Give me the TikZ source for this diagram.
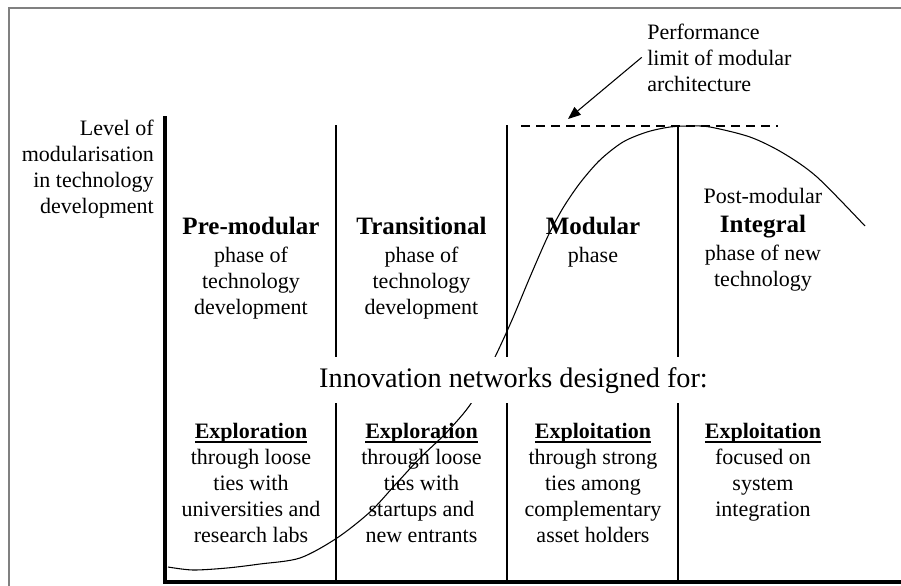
\documentclass[tikz,border=0pt]{standalone}
\usepackage{fontspec}
\setmainfont{Liberation Serif}
\usetikzlibrary{arrows.meta}
\newsavebox\ulbox
\newcommand\ulword[1]{\sbox\ulbox{#1}\rlap{\rule[-3.4pt]{\wd\ulbox}{1.2pt}}\usebox\ulbox}
\begin{document}
\begin{tikzpicture}[x=0.75pt,y=-0.75pt,
    axis/.style={line width=2.6pt},
    divider/.style={line width=0.8pt},
    head/.style={font=\fontsize{18.75}{21}\selectfont\bfseries,anchor=base,inner sep=0pt},
    body/.style={font=\fontsize{16.5}{19.5}\selectfont,align=center,anchor=base,inner sep=0pt}]
    \useasboundingbox (0,0) rectangle (901,586);
    \draw[gray,line width=1.1pt] (9,586)--(9,8)--(901,8);
    % phase dividers
    \foreach \x in {336,507,678}
        \draw[divider] (\x,125)--(\x,582);
    % curve of modularisation
    \draw[line width=0.8pt] plot[smooth,tension=0.5] coordinates {(168,567) (193,570) (227,568) (260,564) (300,558) (337,538) (370,512) (395,485) (420,458) (447,432) (472,402) (495,357) (512,320) (530,277) (548,236) (563,208) (580,183) (600,160) (623,142) (647,132) (670,127) (690,126) (710,127) (750,137) (783,153) (817,177) (865,226)};
    \draw[axis] (165,116)--(165,582)--(901,582);
    \draw[line width=1.8pt,dash pattern=on 6.75pt off 4.5pt] (521,126)--(778,126);
    \coordinate (limit) at (568,119);
    % base anchor of a multi-line node = last line
    \node[body,align=left,anchor=base west,inner sep=4pt] (perf) at (641.7,91) {Performance\\limit of modular\\architecture};
    \draw[line width=0.8pt,-{Triangle[length=9.5pt,width=7.5pt]}] (perf.west)--(limit);
    \node[body,align=right,anchor=base east] (ylabel) at (154,213) {Level of\\modularisation\\in technology\\development};
    % phases
    \node[head] (pre) at (251,234) {Pre-modular};
    \node[body] (prebody) at (251,314) {phase of\\technology\\development};
    \node[head] (trans) at (421.5,234) {Transitional};
    \node[body] (transbody) at (421.5,314) {phase of\\technology\\development};
    \node[head] (mod) at (593,234) {Modular};
    \node[body] (modbody) at (593,262) {phase};
    \node[body] (post) at (763,203) {Post-modular};
    \node[head] (integ) at (763,232) {Integral};
    \node[body] (integbody) at (763,286) {phase of new\\technology};
    \node[anchor=base,fill=white,inner xsep=2pt,inner ysep=7.5pt,font=\fontsize{21.2}{25}\selectfont] (innov) at (513.5,387) {Innovation networks designed for:};
    % networks
    \node[body] (net1) at (251,542) {\textbf{\ulword{Exploration}}\\through loose\\ties with\\universities and\\research labs};
    \node[body] (net2) at (421.5,542) {\textbf{\ulword{Exploration}}\\through loose\\ties with\\startups and\\new entrants};
    \node[body] (net3) at (593,542) {\textbf{\ulword{Exploitation}}\\through strong\\ties among\\complementary\\asset holders};
    \node[body] (net4) at (763,516) {\textbf{\ulword{Exploitation}}\\focused on\\system\\integration};
\end{tikzpicture}
\end{document}
